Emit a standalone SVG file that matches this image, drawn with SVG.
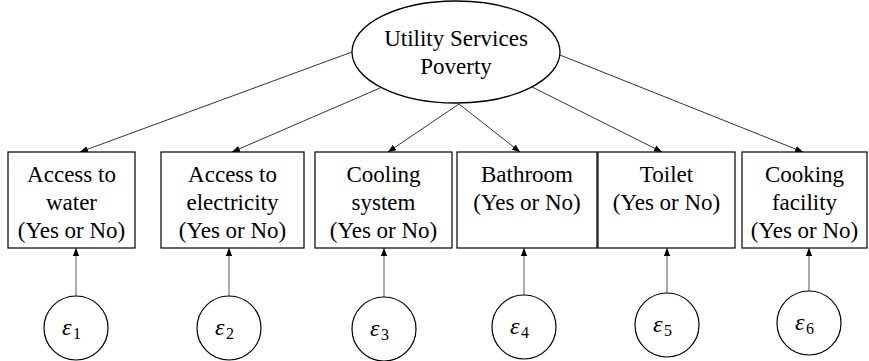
<svg xmlns="http://www.w3.org/2000/svg" width="869" height="361" viewBox="0 0 869 361">
<style>
.box{fill:#fff;stroke:#000;stroke-width:1.2}
.lat{fill:#fff;stroke:#000;stroke-width:1.3}
.err{fill:#fff;stroke:#000;stroke-width:1.2}
.t{font-family:"Liberation Serif","Times New Roman",serif;font-size:23px;fill:#000;text-anchor:middle}
.e{font-family:"Liberation Serif","Times New Roman",serif;font-style:italic;font-size:24px;fill:#000}
.s{font-family:"Liberation Serif","Times New Roman",serif;font-size:16px;fill:#000}
.c{stroke:#333;stroke-width:1;fill:none;marker-end:url(#ah)}
.v{stroke:#666;stroke-width:1.1;fill:none;marker-end:url(#ah)}
</style>
<defs>
<marker id="ah" viewBox="0 0 8 8" refX="8" refY="4" markerWidth="8" markerHeight="8" markerUnits="userSpaceOnUse" orient="auto">
<path d="M0,0.8 L8,4 L0,7.2 Z" fill="#000"/>
</marker>
</defs>
<g id="connectors">
<line class="c" x1="352" y1="52" x2="80" y2="152"/>
<line class="c" x1="380" y1="88" x2="232" y2="152"/>
<line class="c" x1="459" y1="104" x2="388" y2="152"/>
<line class="c" x1="459" y1="104" x2="520" y2="152"/>
<line class="c" x1="532" y1="87" x2="662" y2="152"/>
<line class="c" x1="560" y1="55" x2="803" y2="152"/>
<line class="v" x1="76" y1="296" x2="76" y2="248"/>
<line class="v" x1="229" y1="296" x2="229" y2="248"/>
<line class="v" x1="384" y1="297" x2="384" y2="248"/>
<line class="v" x1="524" y1="295" x2="524" y2="248"/>
<line class="v" x1="667" y1="293" x2="667" y2="248"/>
<line class="v" x1="809" y1="291" x2="809" y2="248"/>
</g>
<g id="latent">
<ellipse class="lat" cx="456" cy="52" rx="104" ry="51"/>
<text class="t" x="456" y="46">Utility Services</text>
<text class="t" x="456" y="74">Poverty</text>
</g>
<g id="box1">
<rect class="box" x="8" y="152" width="127" height="96"/>
<text class="t" x="71.5" y="182">Access to</text>
<text class="t" x="71.5" y="210">water</text>
<text class="t" x="71.5" y="238">(Yes or No)</text>
</g>
<g id="box2">
<rect class="box" x="161" y="152" width="143" height="96"/>
<text class="t" x="232.5" y="182">Access to</text>
<text class="t" x="232.5" y="210">electricity</text>
<text class="t" x="232.5" y="238">(Yes or No)</text>
</g>
<g id="box3">
<rect class="box" x="315" y="152" width="137" height="96"/>
<text class="t" x="383.5" y="182">Cooling</text>
<text class="t" x="383.5" y="210">system</text>
<text class="t" x="383.5" y="238">(Yes or No)</text>
</g>
<g id="box4">
<rect class="box" x="457" y="152" width="140" height="96"/>
<text class="t" x="527" y="182">Bathroom</text>
<text class="t" x="527" y="210">(Yes or No)</text>
</g>
<g id="box5">
<rect class="box" x="598" y="152" width="137" height="96"/>
<text class="t" x="666.5" y="182">Toilet</text>
<text class="t" x="666.5" y="210">(Yes or No)</text>
</g>
<g id="box6">
<rect class="box" x="742" y="152" width="125" height="96"/>
<text class="t" x="804.5" y="182">Cooking</text>
<text class="t" x="804.5" y="210">facility</text>
<text class="t" x="804.5" y="238">(Yes or No)</text>
</g>
<g id="e1"><circle class="err" cx="76" cy="328" r="32"/><text class="e" x="62" y="335">ε</text><text class="s" x="73" y="339">1</text></g>
<g id="e2"><circle class="err" cx="229" cy="328" r="32"/><text class="e" x="215" y="335">ε</text><text class="s" x="226" y="339">2</text></g>
<g id="e3"><circle class="err" cx="384" cy="329" r="32"/><text class="e" x="370" y="336">ε</text><text class="s" x="381" y="340">3</text></g>
<g id="e4"><circle class="err" cx="524" cy="327" r="32"/><text class="e" x="510" y="334">ε</text><text class="s" x="521" y="338">4</text></g>
<g id="e5"><circle class="err" cx="667" cy="325" r="32"/><text class="e" x="653" y="332">ε</text><text class="s" x="664" y="336">5</text></g>
<g id="e6"><circle class="err" cx="809" cy="323" r="32"/><text class="e" x="795" y="330">ε</text><text class="s" x="806" y="334">6</text></g>
</svg>
